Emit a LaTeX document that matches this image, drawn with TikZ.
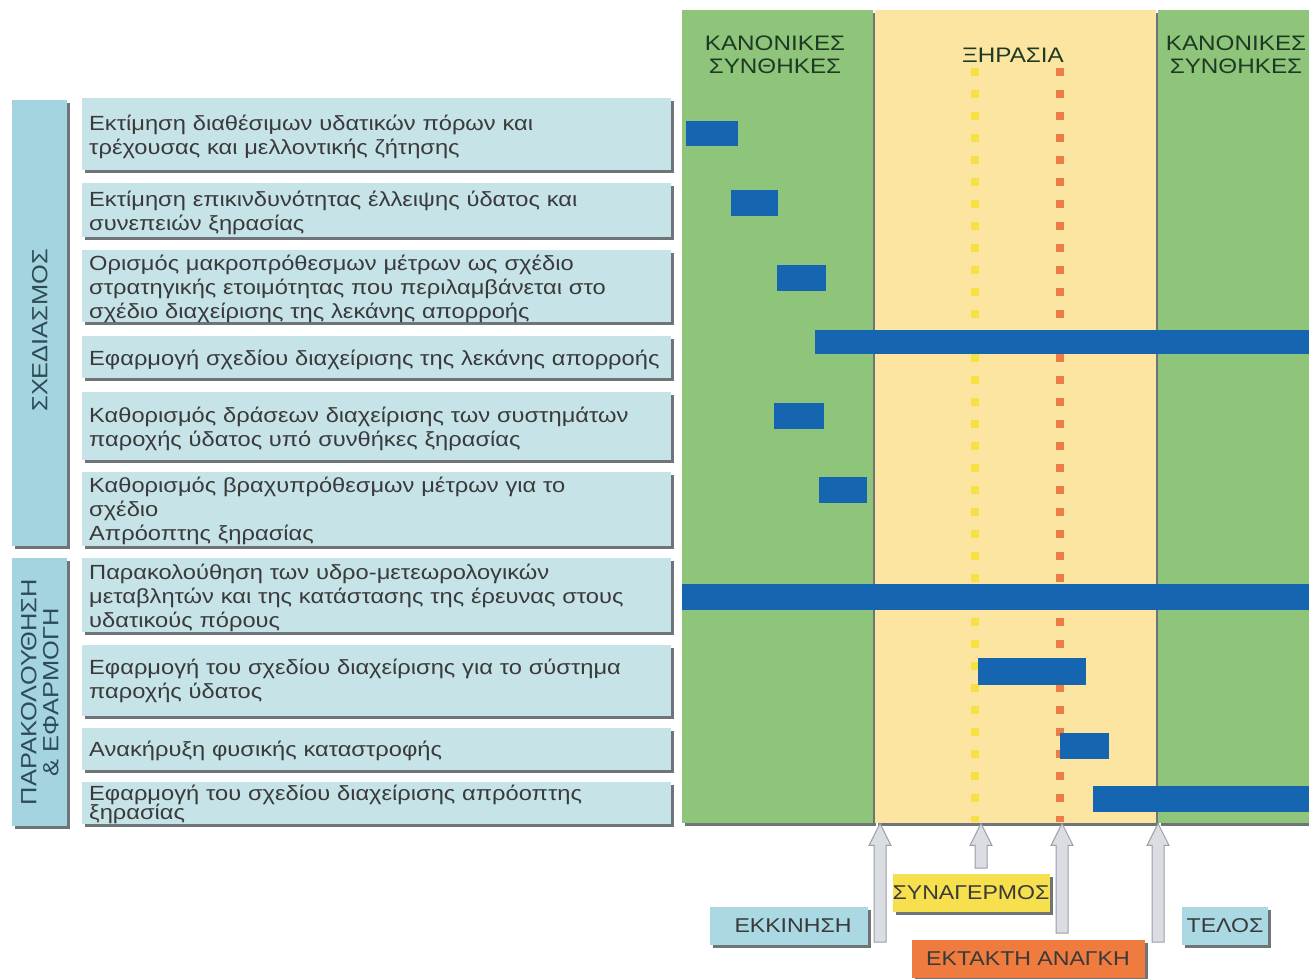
\documentclass[tikz,border=0pt]{standalone}
\usepackage{fontspec}
\setmainfont{Liberation Sans}[FakeStretch=1.155]
\usetikzlibrary{shadows,calc}
\definecolor{grn}{HTML}{8EC57A}
\definecolor{ylw}{HTML}{FBE5A0}
\definecolor{barblue}{HTML}{1565B0}
\definecolor{rowblue}{HTML}{C6E3E8}
\definecolor{grpblue}{HTML}{A3D4DF}
\definecolor{lblblue}{HTML}{ABD9E3}
\definecolor{ydot}{HTML}{F6E043}
\definecolor{odot}{HTML}{EE7C45}
\definecolor{alarm}{HTML}{F6E04E}
\definecolor{emerg}{HTML}{EF7B3E}
\definecolor{shd}{HTML}{6F7478}
\definecolor{txt}{HTML}{3A3A3A}
\definecolor{grptxt}{HTML}{2E4C58}
\definecolor{hdrtxt}{HTML}{1E3A24}
\definecolor{arrfill}{HTML}{DADDE2}
\definecolor{arredge}{HTML}{9A9FA5}
\begin{document}
\begin{tikzpicture}[x=1pt,y=-1pt,
  shd/.style={drop shadow={shadow xshift=3pt,shadow yshift=-3pt,fill=shd,opacity=1}},
  panel/.style={draw=none,inner sep=0pt,anchor=north west,shd},
  hdr/.style={align=center,text=hdrtxt,font=\fontsize{21}{23}\selectfont},
  rowbox/.style={fill=rowblue,draw=none,anchor=west,minimum width=589pt,inner sep=0pt,shd},
  rowtext/.style={anchor=west,text width=575pt,inner xsep=7pt,inner ysep=0pt,
     align=left,text=txt,font=\fontsize{20.5}{24}\selectfont},
  grpbox/.style={fill=grpblue,draw=none,inner sep=0pt,anchor=north west,shd},
  grptext/.style={rotate=90,align=center,text=grptxt,font=\fontsize{22}{22}\selectfont},
  lbl/.style={draw=none,minimum height=38pt,inner sep=0pt,text=txt,font=\fontsize{20}{22}\selectfont,shd},
  bar/.style={fill=barblue},
  dotline/.style={line width=8pt,dash pattern=on 8pt off 14pt},
  blockarrow/.style={fill=arrfill,draw=arredge,line width=1pt,line join=miter}
]
\useasboundingbox (0,0) rectangle (1309,979);
\fill[white] (0,0) rectangle (1309,979);

% panels
\node[panel,fill=grn,minimum width=191pt,minimum height=813pt] (g1) at (682,10) {};
\node[panel,fill=ylw,minimum width=281pt,minimum height=813pt] (yw) at (875,10) {};
\node[panel,fill=grn,minimum width=160pt,minimum height=813pt] (g2) at (1158,10) {};

% headers
\node[hdr] (h1) at (775,55) {ΚΑΝΟΝΙΚΕΣ\\ΣΥΝΘΗΚΕΣ};
\node[hdr] (h2) at (1013,55) {ΞΗΡΑΣΙΑ};
\node[hdr] (h3) at (1236,55) {ΚΑΝΟΝΙΚΕΣ\\ΣΥΝΘΗΚΕΣ};

% dotted lines
\draw[dotline,draw=ydot] (975,68) -- (975,822);
\draw[dotline,draw=odot] (1060,68) -- (1060,822);

% group labels
\node[grpbox,minimum width=55pt,minimum height=446pt] (sx) at (12,100) {};
\node[grptext] (sxt) at ([yshift=-7pt]sx.center) {ΣΧΕΔΙΑΣΜΟΣ};
\node[grpbox,minimum width=55pt,minimum height=268pt] (pe) at (12,558) {};
\node[grptext] (pet) at (pe.center) {ΠΑΡΑΚΟΛΟΥΘΗΣΗ\\\& ΕΦΑΡΜΟΓΗ};

% rows
\node[rowbox,minimum height=72pt] (r1) at (82,134) {};
\node[rowtext] (t1) at ([yshift=-3pt]r1.west) {Εκτίμηση διαθέσιμων υδατικών πόρων και\\τρέχουσας και μελλοντικής ζήτησης};
\node[rowbox,minimum height=54pt] (r2) at (82,210) {};
\node[rowtext] (t2) at ([yshift=-3pt]r2.west) {Εκτίμηση επικινδυνότητας έλλειψης ύδατος και\\συνεπειών ξηρασίας};
\node[rowbox,minimum height=72pt] (r3) at (82,286) {};
\node[rowtext] (t3) at ([yshift=-3pt]r3.west) {Ορισμός μακροπρόθεσμων μέτρων ως σχέδιο\\στρατηγικής ετοιμότητας που περιλαμβάνεται στο\\σχέδιο διαχείρισης της λεκάνης απορροής};
\node[rowbox,minimum height=42pt] (r4) at (82,357) {};
\node[rowtext] (t4) at ([yshift=-3pt]r4.west) {Εφαρμογή σχεδίου διαχείρισης της λεκάνης απορροής};
\node[rowbox,minimum height=68pt] (r5) at (82,426) {};
\node[rowtext] (t5) at ([yshift=-3pt]r5.west) {Καθορισμός δράσεων διαχείρισης των συστημάτων\\παροχής ύδατος υπό συνθήκες ξηρασίας};
\node[rowbox,minimum height=74pt] (r6) at (82,509) {};
\node[rowtext] (t6) at ([yshift=-2pt]r6.west) {Καθορισμός βραχυπρόθεσμων μέτρων για το\\σχέδιο\\Απρόοπτης ξηρασίας};
\node[rowbox,minimum height=74pt] (r7) at (82,595) {};
\node[rowtext] (t7) at ([yshift=-3pt]r7.west) {Παρακολούθηση των υδρο-μετεωρολογικών\\μεταβλητών και της κατάστασης της έρευνας στους\\υδατικούς πόρους};
\node[rowbox,minimum height=71pt] (r8) at (82,680) {};
\node[rowtext] (t8) at ([yshift=-1pt]r8.west) {Εφαρμογή του σχεδίου διαχείρισης για το σύστημα\\παροχής ύδατος};
\node[rowbox,minimum height=42pt] (r9) at (82,749) {};
\node[rowtext] (t9) at ([yshift=-2pt]r9.west) {Ανακήρυξη φυσικής καταστροφής};
\node[rowbox,minimum height=42pt] (r10) at (82,803) {};
\node[rowtext] (t10) at ([yshift=-1pt]r10.west) {Εφαρμογή του σχεδίου διαχείρισης απρόοπτης\\[-5pt]ξηρασίας};

% bars
\fill[bar] (686,121) rectangle (738,146);
\fill[bar] (731,190) rectangle (778,216);
\fill[bar] (777,265) rectangle (826,291);
\fill[bar] (815,330) rectangle (1309,354);
\fill[bar] (774,403) rectangle (824,429);
\fill[bar] (819,477) rectangle (867,503);
\fill[bar] (682,584) rectangle (1309,610);
\fill[bar] (978,658) rectangle (1086,685);
\fill[bar] (1060,733) rectangle (1109,759);
\fill[bar] (1093,786) rectangle (1309,812);

% bottom labels
\node[lbl,fill=lblblue,minimum width=158pt] (start) at (789,926) {\hspace{8pt}ΕΚΚΙΝΗΣΗ};
\node[lbl,fill=alarm,minimum width=157pt] (alrm) at (971,893) {ΣΥΝΑΓΕΡΜΟΣ};
\node[lbl,fill=emerg,minimum width=233pt] (emg) at (1028,959) {ΕΚΤΑΚΤΗ ΑΝΑΓΚΗ};
\node[lbl,fill=lblblue,minimum width=86pt] (end) at (1225,926) {ΤΕΛΟΣ};

% arrows
\coordinate (a1b) at (880,942); \coordinate (a1t) at (a1b |- yw.south);
\coordinate (a2b) at (981,868); \coordinate (a2t) at (a2b |- yw.south);
\coordinate (a3b) at (1062,933); \coordinate (a3t) at (a3b |- yw.south);
\coordinate (a4b) at (1158,942); \coordinate (a4t) at (a4b |- yw.south);
\foreach \b/\t in {a1b/a1t,a2b/a2t,a3b/a3t,a4b/a4t}{
  \draw[blockarrow] ($(\b)+(-6,0)$) -- ($(\t)+(-6,22)$) -- ($(\t)+(-11,22)$) -- (\t)
     -- ($(\t)+(11,22)$) -- ($(\t)+(6,22)$) -- ($(\b)+(6,0)$) -- cycle;
}
\end{tikzpicture}
\end{document}
